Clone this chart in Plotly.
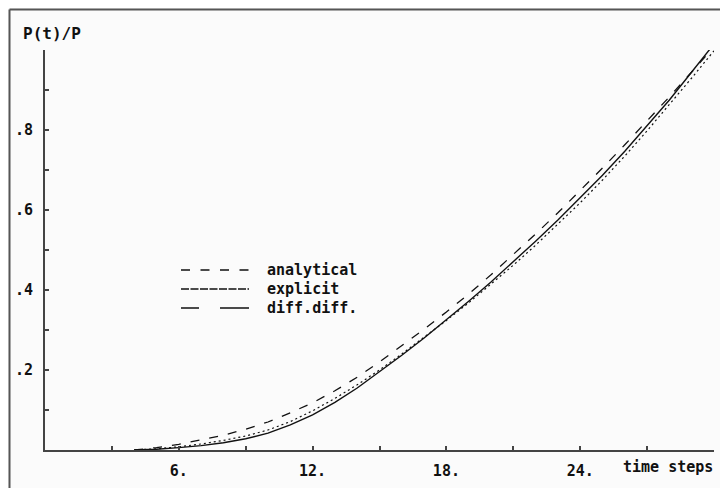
import plotly.graph_objects as go

# ---- data -------------------------------------------------------------
t_steps = list(range(4, 31))

analytical = [0.000, 0.006, 0.014, 0.025, 0.037, 0.052, 0.070, 0.093, 0.118,
              0.148, 0.182, 0.220, 0.260, 0.302, 0.345, 0.390, 0.438, 0.488,
              0.540, 0.593, 0.648, 0.705, 0.763, 0.822, 0.883, 0.945, 1.008]

explicit = [0.000, 0.002, 0.006, 0.011, 0.018, 0.028, 0.042, 0.063, 0.088,
            0.119, 0.155, 0.195, 0.237, 0.280, 0.325, 0.372, 0.420, 0.470,
            0.522, 0.575, 0.630, 0.687, 0.747, 0.810, 0.875, 0.945, 1.015]

diffdiff = [0.000, 0.003, 0.008, 0.015, 0.024, 0.035, 0.050, 0.071, 0.098,
            0.129, 0.163, 0.200, 0.240, 0.281, 0.324, 0.368, 0.414, 0.462,
            0.512, 0.564, 0.618, 0.675, 0.735, 0.798, 0.863, 0.930, 0.998]

x_tick_vals = [3, 6, 9, 12, 15, 18, 21, 24, 27, 30]
x_tick_text = ["", "6.", "", "12.", "", "18.", "", "24.", "", ""]
y_tick_vals = [0.1, 0.2, 0.3, 0.4, 0.5, 0.6, 0.7, 0.8, 0.9, 1.0]
y_tick_text = ["", ".2", "", ".4", "", ".6", "", ".8", "", ""]

series_names = ["analytical", "explicit", "diff.diff."]

# ---- styling ----------------------------------------------------------
FONT = dict(family="DejaVu Sans Mono, Liberation Mono, monospace", size=15,
            color="#111111", weight="bold")
TITLE_FONT = dict(FONT, size=16)
BG = "#fbfbfb"

fig = go.Figure()
fig.add_trace(go.Scatter(x=t_steps, y=analytical, mode="lines", name=series_names[0],
                         line=dict(color="#111111", width=1.3, dash="9px,10px")))
fig.add_trace(go.Scatter(x=t_steps, y=diffdiff, mode="lines", name=series_names[2],
                         line=dict(color="#111111", width=1.2, dash="2px,3px")))
fig.add_trace(go.Scatter(x=t_steps, y=explicit, mode="lines", name=series_names[1],
                         line=dict(color="#111111", width=1.4)))

# page offset of the figure (default body margin)
OFF = 8
W, H = 720, 480
# plot area in page pixels: x 45..714, y 50..450
L = 45 - OFF
R = W - (714 - OFF)
T = 50 - OFF
B = H - (450 - OFF)
pw, ph = W - L - R, H - T - B


def px2paper_x(px):  # page pixel -> paper
    return (px - OFF - L) / pw


def px2paper_y(py):
    return (H - B - (py - OFF)) / ph


shapes = []
# outer frame (left and top edges visible)
frame = dict(type="line", xref="paper", yref="paper", layer="above",
             line=dict(color="#555555", width=2))
shapes.append(dict(frame, x0=px2paper_x(9.5), x1=px2paper_x(9.5),
                   y0=px2paper_y(9.5), y1=px2paper_y(500)))
shapes.append(dict(frame, x0=px2paper_x(9.5), x1=px2paper_x(740),
                   y0=px2paper_y(9.5), y1=px2paper_y(9.5)))

# manual legend keys
legend_dash = ["9px,10.5px", "8px,1.5px", "18px,21px,29px,60px"]
legend_rows = [270, 289, 308]
annotations = []
for name, dash, row in zip(series_names, legend_dash, legend_rows):
    shapes.append(dict(type="line", xref="paper", yref="paper",
                       x0=px2paper_x(181), x1=px2paper_x(249),
                       y0=px2paper_y(row), y1=px2paper_y(row),
                       line=dict(color="#111111", width=1.5, dash=dash)))
    annotations.append(dict(text=name, xref="paper", yref="paper",
                            x=px2paper_x(265), y=px2paper_y(row),
                            xanchor="left", yanchor="middle",
                            showarrow=False, font=FONT))

annotations.append(dict(text="P(t)/P", xref="paper", yref="paper",
                        x=px2paper_x(21), y=px2paper_y(33),
                        xanchor="left", yanchor="middle",
                        showarrow=False, font=TITLE_FONT))
annotations.append(dict(text="time steps", xref="paper", yref="paper",
                        x=px2paper_x(621), y=px2paper_y(467),
                        xanchor="left", yanchor="middle",
                        showarrow=False, font=FONT))

fig.update_layout(
    width=W, height=H,
    margin=dict(l=L, r=R, t=T, b=B, pad=0),
    paper_bgcolor=BG, plot_bgcolor=BG,
    showlegend=False,
    font=FONT,
    shapes=shapes,
    annotations=annotations,
    xaxis=dict(range=[0, 30], showgrid=False, zeroline=False, automargin=False,
               showline=True, linecolor="#444444", linewidth=2,
               ticks="inside", ticklen=4, tickwidth=1.5, tickcolor="#444444",
               tickvals=x_tick_vals, ticktext=x_tick_text,
               ticklabelstandoff=6, tickfont=FONT),
    yaxis=dict(range=[0, 1], showgrid=False, zeroline=False, automargin=False,
               showline=True, linecolor="#444444", linewidth=2,
               ticks="inside", ticklen=4, tickwidth=1.5, tickcolor="#444444",
               tickvals=y_tick_vals, ticktext=y_tick_text,
               ticklabelstandoff=7, tickfont=FONT),
)

fig.write_html("out.html")
